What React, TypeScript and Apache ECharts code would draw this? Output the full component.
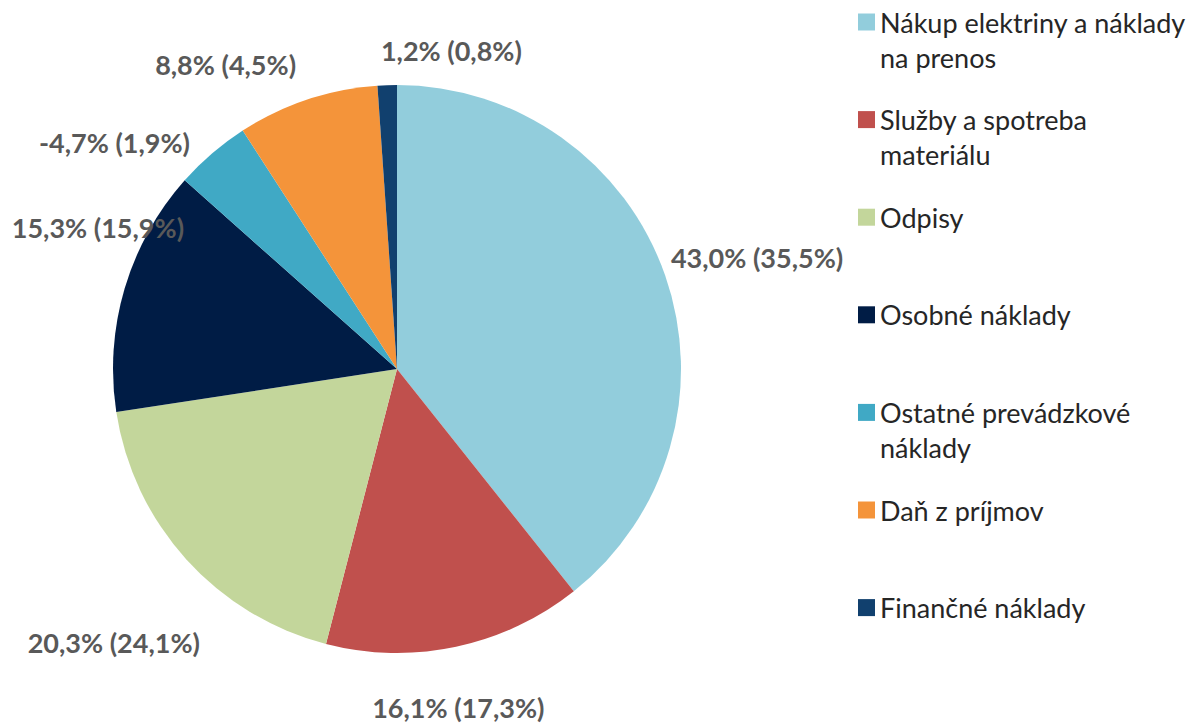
import React, { useEffect, useRef } from 'react';
import * as echarts from 'echarts';

// ---- data ----
const categories = [
  'Nákup elektriny a náklady na prenos',
  'Služby a spotreba materiálu',
  'Odpisy',
  'Osobné náklady',
  'Ostatné prevádzkové náklady',
  'Daň z príjmov',
  'Finančné náklady',
];
const legendLabels = [
  'Nákup elektriny a náklady\nna prenos',
  'Služby a spotreba\nmateriálu',
  'Odpisy',
  'Osobné náklady',
  'Ostatné prevádzkové\nnáklady',
  'Daň z príjmov',
  'Finančné náklady',
];
const currentShares = [43.0, 16.1, 20.3, 15.3, -4.7, 8.8, 1.2];
const previousShares = [35.5, 17.3, 24.1, 15.9, 1.9, 4.5, 0.8];

// ---- styling ----
const colors = ['#92CDDC', '#C0504D', '#C3D69B', '#001C45', '#40A9C5', '#F4943A', '#11406E'];
const labelShifts = [
  [-8.6, -15],
  [-91, 51],
  [26, 76],
  [74, -58],
  [-10.5, -3],
  [-3, -26],
  [140, -25],
];

const fmt = (v: number) => v.toFixed(1).replace('.', ',') + '%';

// put the first visible line of every legend entry at the middle of a 3-line block,
// so the colour square lines up with the first line (as in Excel)
const legendText = (label: string) => (label.includes('\n') ? '\n' + label : '\n' + label + '\n');

export default function App() {
  const ref = useRef<HTMLDivElement>(null);
  useEffect(() => {
    if (!ref.current) return;
    const chart = echarts.init(ref.current, null, { renderer: 'svg' });
    chart.setOption({
      animation: false,
      backgroundColor: '#ffffff',
      legend: {
        orient: 'vertical',
        left: 858,
        top: -30.5,
        padding: 0,
        itemWidth: 17,
        itemHeight: 17,
        itemGap: -7.4,
        icon: 'rect',
        selectedMode: false,
        textStyle: {
          fontFamily: 'Lato',
          fontSize: 27,
          color: '#262626',
          lineHeight: 35,
        },
        formatter: (name: string) => legendText(legendLabels[categories.indexOf(name)]),
        data: categories,
      },
      series: [
        {
          type: 'pie',
          center: [397, 369],
          radius: 284,
          startAngle: 90,
          clockwise: true,
          avoidLabelOverlap: false,
          silent: true,
          label: {
            show: true,
            position: 'outside',
            distanceToLabelLine: 5,
            fontFamily: 'Lato',
            fontWeight: 'bold',
            fontSize: 27,
            lineHeight: 26,
            color: '#595959',
            formatter: (p: any) =>
              `${fmt(currentShares[p.dataIndex])} (${fmt(previousShares[p.dataIndex])})`,
          },
          labelLine: { show: false, length: 10, length2: 0 },
          labelLayout: (p: any) => ({
            dx: labelShifts[p.dataIndex][0],
            dy: labelShifts[p.dataIndex][1],
          }),
          data: categories.map((name, i) => ({
            name,
            value: Math.abs(currentShares[i]),
            itemStyle: { color: colors[i] },
          })),
        },
      ],
    });
    return () => chart.dispose();
  }, []);
  return (
    <div
      ref={ref}
      style={{ position: 'absolute', left: 0, top: 0, width: 1194, height: 724, background: '#fff' }}
    />
  );
}
